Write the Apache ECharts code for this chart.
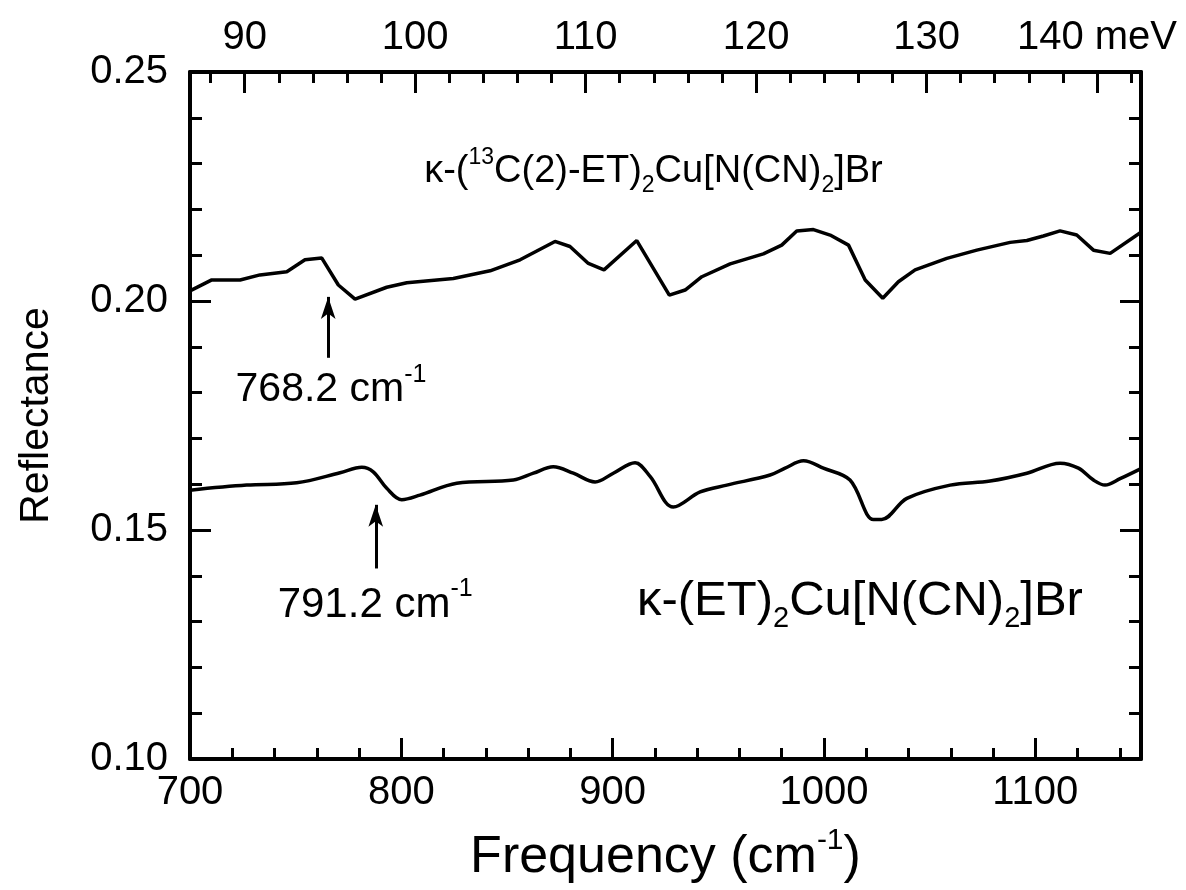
<!DOCTYPE html>
<html>
<head>
<meta charset="utf-8">
<script src="https://cdn.jsdelivr.net/npm/echarts@6/dist/echarts.min.js"></script>
<style>
html,body{margin:0;padding:0;background:#fff;}
#chart{width:1186px;height:890px;}
</style>
</head>
<body>
<div id="chart"></div>
<script>
// ---- data ----
const upperX = [700, 710.3, 723.7, 733.1, 745.8, 754.4, 762.3, 770.2, 778.1, 793.1, 802.6, 824.6, 842, 856.2, 872.7, 879.8, 888.5, 895.9, 911.4, 926.8, 934.3, 942.2, 955.6, 971.3, 980, 987.1, 995, 1002.9, 1011.6, 1019.5, 1027.8, 1035.2, 1043.1, 1058.1, 1072.3, 1088.1, 1096, 1103.8, 1111.7, 1119.6, 1127.5, 1135.4, 1150];
const upperY = [0.2022, 0.2046, 0.2046, 0.2057, 0.2064, 0.2090, 0.2094, 0.2035, 0.2004, 0.2030, 0.2040, 0.2049, 0.2066, 0.2090, 0.2130, 0.2119, 0.2082, 0.2068, 0.2132, 0.2013, 0.2024, 0.2053, 0.2081, 0.2103, 0.2122, 0.2153, 0.2156, 0.2144, 0.2122, 0.2046, 0.2006, 0.2042, 0.2068, 0.2093, 0.2111, 0.2128, 0.2132, 0.2142, 0.2153, 0.2144, 0.2111, 0.2104, 0.2150];

const lowerX = [700, 726.8, 750.5, 771, 781.3, 786.7, 793.1, 800.2, 808.8, 826.2, 853, 862.5, 871.9, 881.4, 891.7, 900.3, 910.6, 917.7, 928.7, 941.4, 954, 974.5, 981.6, 990.3, 999.7, 1012.3, 1023.4, 1027.3, 1039.2, 1059.7, 1078.6, 1096, 1111.7, 1120.4, 1127.5, 1133, 1140.1, 1150];
const lowerY = [0.1587, 0.1598, 0.1603, 0.1625, 0.1637, 0.1627, 0.1591, 0.1566, 0.1576, 0.1602, 0.1609, 0.1624, 0.1638, 0.1624, 0.1605, 0.1624, 0.1647, 0.1617, 0.1550, 0.1583, 0.1598, 0.1620, 0.1635, 0.1651, 0.1635, 0.1609, 0.1523, 0.1523, 0.1569, 0.1598, 0.1607, 0.1624, 0.1646, 0.1635, 0.1609, 0.1598, 0.1612, 0.1634];

// annotations: arrow x, tail value, tip value
const arrowX = [765.4, 787.9];
const arrowTail = [0.1876, 0.1416];
const arrowTip = [0.2009, 0.1555];
const peakLabels = ['768.2', '791.2'];
const peakLabelPos = [[766.7, 0.1806], [787.6, 0.1336]];
const formulaPos = [[919.3, 0.2282], [1017, 0.1345]];

const xMin = 700, xMax = 1150;
const yMin = 0.10, yMax = 0.25;
const cmPerMeV = 8.0655;
const meVLabels = [90, 100, 110, 120, 130, 140];

const FONT = 'Liberation Sans';
const black = '#000';

const pairs = (xs, ys) => xs.map((x, i) => [x, ys[i]]);

const chart = echarts.init(document.getElementById('chart'), null, {renderer: 'canvas'});

function richFor(size) {
  const s = Math.round(size * 0.6);
  return {
    a: {fontFamily: FONT, fontSize: size, color: black, lineHeight: Math.round(size * 1.35), verticalAlign: 'middle'},
    sup: {fontFamily: FONT, fontSize: s, color: black, lineHeight: s, verticalAlign: 'top'},
    sub: {fontFamily: FONT, fontSize: s, color: black, lineHeight: s, verticalAlign: 'bottom'}
  };
}

const tickStyle = {color: black, width: 3};

const option = {
  backgroundColor: '#fff',
  animation: false,
  grid: {left: 190, right: 45, top: 72, bottom: 131, containLabel: false},
  xAxis: [
    { // bottom major
      type: 'value', position: 'bottom', min: xMin, max: xMax, interval: 100,
      axisLine: {show: true, onZero: false, lineStyle: {color: black, width: 4}},
      axisTick: {show: true, inside: true, length: 21, lineStyle: tickStyle},
      axisLabel: {show: true, margin: 14, fontFamily: FONT, fontSize: 40, color: black,
        formatter: v => (v % 100 === 0 ? String(v) : '')},
      splitLine: {show: false},
      name: '{a|Frequency (cm}{s|-1}{a|)}', nameLocation: 'middle', nameGap: 67,
      nameTextStyle: {rich: {
        a: {fontFamily: FONT, fontSize: 52, color: black, lineHeight: 58, verticalAlign: 'bottom'},
        s: {fontFamily: FONT, fontSize: 30, color: black, lineHeight: 30, verticalAlign: 'top'}
      }}
    },
    { // bottom minor
      type: 'value', position: 'bottom', min: xMin, max: xMax, interval: 20,
      axisLine: {show: false, onZero: false},
      axisTick: {show: true, inside: true, length: 11, lineStyle: tickStyle},
      axisLabel: {show: false}, splitLine: {show: false}
    },
    { // top major (meV)
      type: 'value', position: 'top', min: xMin / cmPerMeV, max: xMax / cmPerMeV, splitNumber: 5,
      axisLine: {show: true, onZero: false, lineStyle: {color: black, width: 4}},
      axisTick: {show: true, inside: true, length: 21, lineStyle: tickStyle},
      axisLabel: {show: true, margin: 14, fontFamily: FONT, fontSize: 40, color: black,
        showMinLabel: false, showMaxLabel: false,
        formatter: v => {
          const r = Math.round(v);
          if (Math.abs(v - r) > 1e-6 || meVLabels.indexOf(r) < 0) return '';
          return r === 140 ? '140 meV' : String(r);
        }},
      splitLine: {show: false}
    },
    { // top minor (meV)
      type: 'value', position: 'top', min: xMin / cmPerMeV, max: xMax / cmPerMeV, splitNumber: 28,
      axisLine: {show: false, onZero: false},
      axisTick: {show: true, inside: true, length: 11, lineStyle: tickStyle},
      axisLabel: {show: false}, splitLine: {show: false}
    }
  ],
  yAxis: [
    {
      type: 'value', position: 'left', min: yMin, max: yMax, interval: 0.05,
      axisLine: {show: true, onZero: false, lineStyle: {color: black, width: 4}},
      axisTick: {show: true, inside: true, length: 21, lineStyle: tickStyle},
      minorTick: {show: true, splitNumber: 5, length: 12, lineStyle: tickStyle},
      axisLabel: {show: true, margin: 22, fontFamily: FONT, fontSize: 40, color: black,
        formatter: v => v.toFixed(2)},
      splitLine: {show: false},
      name: 'Reflectance', nameLocation: 'middle', nameGap: 133,
      nameTextStyle: {fontFamily: FONT, fontSize: 41, color: black}
    },
    {
      type: 'value', position: 'right', min: yMin, max: yMax, interval: 0.05,
      axisLine: {show: true, onZero: false, lineStyle: {color: black, width: 4}},
      axisTick: {show: true, inside: true, length: 21, lineStyle: tickStyle},
      minorTick: {show: true, splitNumber: 5, length: 12, lineStyle: tickStyle},
      axisLabel: {show: false}, splitLine: {show: false}
    }
  ],
  series: [
    {
      name: 'upper', type: 'line', xAxisIndex: 0, yAxisIndex: 0,
      data: pairs(upperX, upperY), symbol: 'none', smooth: false,
      lineStyle: {color: black, width: 3.5}, silent: true,
      markLine: {
        silent: true, symbol: ['none', 'arrow'], symbolSize: [11, 22],
        lineStyle: {color: black, width: 3, type: 'solid'}, label: {show: false},
        data: [[{coord: [arrowX[0], arrowTail[0]]}, {coord: [arrowX[0], arrowTip[0]]}]]
      },
      markPoint: {
        silent: true, symbol: 'circle', symbolSize: 0,
        label: {show: true, position: 'inside', color: black},
        data: [
          {coord: peakLabelPos[0], label: {formatter: '{a|' + peakLabels[0] + ' cm}{sup|-1}', rich: richFor(41)}},
          {coord: formulaPos[0], label: {formatter: '{a|κ-(}{sup|13}{a|C(2)-ET)}{sub|2}{a|Cu[N(CN)}{sub|2}{a|]Br}', rich: richFor(38)}}
        ]
      }
    },
    {
      name: 'lower', type: 'line', xAxisIndex: 0, yAxisIndex: 0,
      data: pairs(lowerX, lowerY), symbol: 'none', smooth: 0.35,
      lineStyle: {color: black, width: 3.5}, silent: true,
      markLine: {
        silent: true, symbol: ['none', 'arrow'], symbolSize: [11, 22],
        lineStyle: {color: black, width: 3, type: 'solid'}, label: {show: false},
        data: [[{coord: [arrowX[1], arrowTail[1]]}, {coord: [arrowX[1], arrowTip[1]]}]]
      },
      markPoint: {
        silent: true, symbol: 'circle', symbolSize: 0,
        label: {show: true, position: 'inside', color: black},
        data: [
          {coord: peakLabelPos[1], label: {formatter: '{a|' + peakLabels[1] + ' cm}{sup|-1}', rich: richFor(42)}},
          {coord: formulaPos[1], label: {formatter: '{a|κ-(ET)}{sub|2}{a|Cu[N(CN)}{sub|2}{a|]Br}', rich: richFor(49)}}
        ]
      }
    }
  ]
};
chart.setOption(option);
</script>
</body>
</html>
